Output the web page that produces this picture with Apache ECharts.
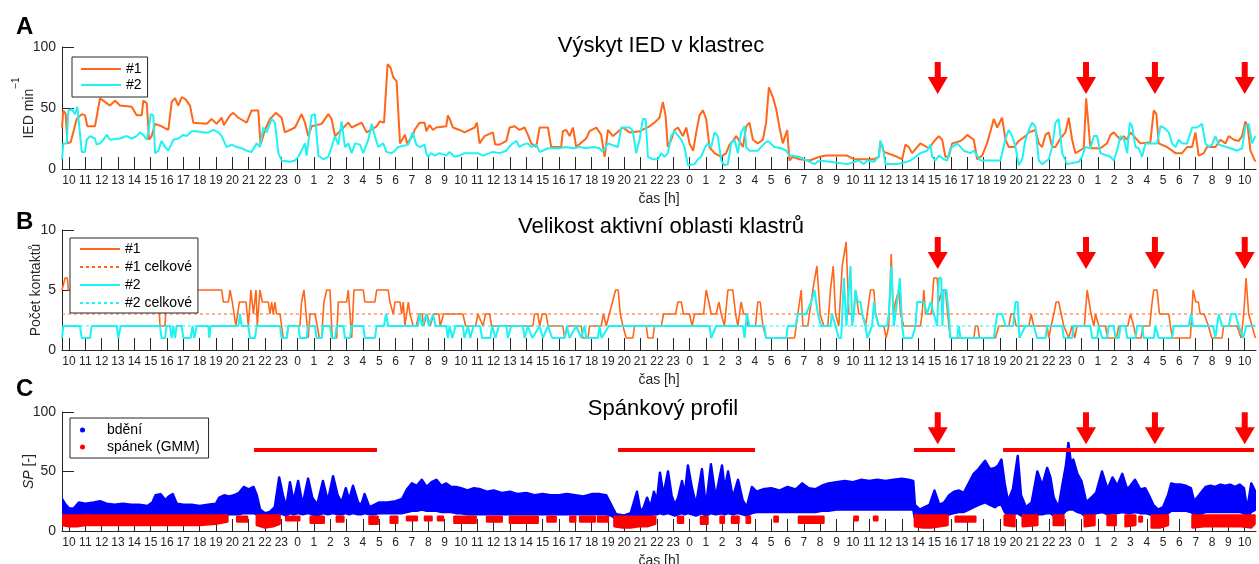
<!DOCTYPE html>
<html>
<head>
<meta charset="utf-8">
<script src="https://cdn.jsdelivr.net/npm/echarts@6/dist/echarts.min.js"></script>
<style>html,body{margin:0;padding:0;background:#fff;}#c{width:1259px;height:564px;}</style>
</head>
<body>
<div id="c"></div>
<script>
// ---------------- DATA ----------------
// time in hours since 10:00 of day 1
const X_MIN = -0.43, X_MAX = 72.69;
const tickHours = [10,11,12,13,14,15,16,17,18,19,20,21,22,23,
  0,1,2,3,4,5,6,7,8,9,10,11,12,13,14,15,16,17,18,19,20,21,22,23,
  0,1,2,3,4,5,6,7,8,9,10,11,12,13,14,15,16,17,18,19,20,21,22,23,
  0,1,2,3,4,5,6,7,8,9,10];
const panelTitles = ['Výskyt IED v klastrec', 'Velikost aktivní oblasti klastrů', 'Spánkový profil'];

// Panel A: IED rate [t, value]
const ied1 = [[-0.43,34],[-0.35,48],[-0.2,45],[-0.1,21],[0.1,22],[0.47,41],[0.78,45],[0.98,44],[1.12,35],[1.59,35],[1.9,58],[2.3,54],[2.51,52],[2.82,56],[3.12,52],[3.84,51],[4.14,44],[4.45,44],[4.55,56],[4.76,54],[4.9,24],[5.06,27],[5.27,37],[5.67,35],[6.08,32],[6.29,55],[6.49,58],[6.69,52],[6.9,59],[7.14,57],[7.41,52],[7.61,38],[8.43,37],[8.73,41],[9.04,37],[9.35,42],[9.49,36],[9.86,44],[10.06,46],[10.37,42],[10.88,38],[11.18,48],[11.59,48],[11.73,20],[12.0,32],[12.31,41],[12.67,46],[13.02,42],[13.22,30],[13.84,34],[14.24,45],[14.45,38],[14.65,27],[14.86,35],[15.47,37],[15.88,45],[16.08,41],[16.29,27],[16.59,31],[17.1,38],[17.31,34],[17.92,38],[18.22,30],[18.84,35],[19.04,39],[19.29,38],[19.51,86],[19.69,83],[19.86,75],[20.06,72],[20.27,21],[20.57,28],[20.71,21],[21.08,28],[21.16,32],[21.47,38],[21.78,38],[21.88,31],[22.08,36],[22.29,32],[22.49,34],[23.1,35],[23.2,44],[23.31,41],[23.51,34],[23.92,32],[24.22,30],[24.84,34],[24.98,38],[25.14,21],[25.45,27],[25.96,30],[26.1,20],[26.37,20],[26.78,23],[26.98,34],[27.29,35],[27.59,32],[27.9,34],[28.1,28],[28.31,21],[28.61,18],[28.82,34],[29.33,34],[29.53,18],[30.14,18],[30.24,31],[30.45,32],[30.65,27],[30.86,34],[31.06,18],[31.67,25],[31.88,31],[32.29,34],[32.59,28],[32.8,10],[33.0,32],[33.31,27],[33.92,34],[34.33,30],[34.94,31],[35.55,35],[35.86,38],[36.16,42],[36.37,55],[36.53,44],[36.67,18],[36.88,24],[37.08,32],[37.29,34],[37.59,27],[37.8,34],[38.0,21],[38.22,15],[38.41,30],[38.61,44],[38.82,48],[39.02,41],[39.22,18],[39.53,13],[39.94,10],[40.24,13],[40.45,20],[40.65,23],[40.86,27],[41.27,18],[41.47,35],[41.67,38],[41.88,24],[42.18,21],[42.49,24],[42.69,38],[42.86,67],[43.1,59],[43.31,49],[43.51,34],[43.71,21],[43.98,32],[44.12,7],[44.33,10],[44.73,8],[45.35,7],[45.96,10],[46.37,11],[47.65,11],[48.06,8],[49.29,8],[49.59,10],[49.69,23],[49.9,14],[50.71,10],[51.02,8],[51.22,20],[51.43,18],[51.63,13],[51.94,18],[52.14,21],[52.65,17],[53.06,24],[53.27,27],[53.47,24],[53.67,10],[53.88,10],[54.08,21],[54.59,23],[54.8,25],[55.0,28],[55.41,24],[55.61,8],[55.92,11],[56.22,21],[56.43,31],[56.63,41],[56.84,34],[57.14,42],[57.35,24],[57.55,18],[57.86,18],[58.16,23],[58.57,27],[58.78,30],[59.18,32],[59.39,21],[59.59,18],[59.8,28],[60.0,30],[60.2,18],[60.41,18],[60.71,25],[61.02,30],[61.22,42],[61.43,24],[61.63,13],[62.14,17],[62.29,58],[62.41,58],[62.55,17],[63.16,17],[63.57,21],[63.78,28],[63.98,30],[64.39,24],[64.59,27],[64.8,24],[65.0,30],[65.61,21],[66.22,22],[66.43,48],[66.59,45],[66.73,21],[67.24,18],[67.76,13],[68.16,13],[68.47,18],[68.78,18],[68.98,30],[69.18,11],[69.49,13],[69.69,18],[70.2,18],[70.51,24],[70.82,21],[71.02,27],[71.33,24],[71.63,23],[71.84,27],[72.04,39],[72.18,35],[72.35,15],[72.65,6]];

const ied2 = [[-0.43,8],[-0.35,21],[-0.14,21],[-0.04,48],[0.16,49],[0.37,45],[0.51,51],[0.63,50],[0.78,14],[0.98,14],[1.08,24],[1.29,27],[1.59,25],[1.69,20],[1.9,21],[2.1,24],[2.31,28],[2.51,24],[3.12,25],[3.53,27],[3.84,25],[4.14,27],[4.35,30],[4.55,28],[4.76,24],[4.86,30],[5.0,45],[5.16,44],[5.27,13],[5.47,15],[5.67,23],[5.88,18],[6.08,15],[6.39,24],[6.69,25],[7.0,28],[7.2,27],[7.51,31],[7.82,31],[8.22,30],[8.53,30],[8.84,32],[9.14,30],[9.35,27],[9.65,18],[9.96,20],[10.27,18],[10.57,17],[10.88,15],[11.18,14],[11.49,21],[11.69,18],[11.9,34],[12.1,30],[12.41,41],[12.61,38],[12.82,13],[13.02,7],[13.53,6],[13.84,7],[14.04,10],[14.24,15],[14.45,21],[14.55,11],[14.86,44],[15.06,45],[15.27,11],[15.57,8],[15.88,10],[16.08,18],[16.29,27],[16.49,20],[16.69,39],[16.9,18],[17.1,21],[17.31,13],[17.51,21],[17.82,20],[18.02,13],[18.33,24],[18.53,37],[18.73,27],[18.94,18],[19.24,21],[19.45,14],[19.76,13],[19.96,15],[20.16,18],[20.78,20],[21.04,30],[21.27,20],[21.47,18],[21.78,20],[21.88,13],[21.98,10],[22.18,13],[22.39,11],[22.69,13],[23.1,11],[23.31,14],[23.61,10],[23.92,11],[24.22,13],[25.04,13],[25.35,11],[25.96,14],[26.37,13],[26.78,15],[27.08,20],[27.39,23],[27.59,18],[27.8,20],[28.1,21],[28.31,18],[28.61,20],[28.82,14],[29.02,15],[29.33,17],[30.04,17],[30.45,18],[30.86,17],[31.27,18],[31.67,17],[32.08,18],[32.49,17],[32.69,14],[33.0,21],[33.61,18],[33.82,34],[34.33,34],[34.53,31],[34.73,13],[34.94,24],[35.14,41],[35.31,41],[35.45,10],[35.76,8],[36.06,8],[36.27,13],[36.47,10],[36.67,13],[36.88,27],[37.08,31],[37.49,24],[37.69,18],[37.9,3],[38.31,4],[38.51,8],[38.71,10],[38.92,17],[39.12,21],[39.33,18],[39.53,30],[39.73,27],[39.94,7],[40.14,3],[40.35,4],[40.55,21],[40.76,24],[40.96,13],[41.16,30],[41.37,35],[41.47,18],[41.67,15],[42.18,15],[42.59,21],[42.8,23],[43.2,18],[43.61,17],[43.92,15],[44.12,11],[44.73,10],[45.04,8],[45.65,4],[45.96,7],[46.57,6],[47.65,4],[48.37,7],[48.67,4],[48.88,7],[49.29,6],[49.59,10],[49.69,23],[49.84,18],[50.0,4],[50.71,4],[51.33,6],[51.53,7],[51.84,10],[52.14,13],[52.55,15],[52.76,20],[52.86,10],[53.06,7],[53.27,11],[53.57,8],[53.78,7],[53.98,17],[54.39,21],[54.8,15],[55.2,13],[55.41,15],[55.61,11],[55.82,7],[57.04,7],[57.35,25],[57.55,32],[57.76,27],[57.96,18],[58.16,3],[58.37,8],[58.57,24],[58.78,32],[58.98,38],[59.18,35],[59.39,7],[59.59,4],[60.0,8],[60.2,18],[60.41,38],[60.61,41],[60.82,13],[61.12,4],[61.84,6],[62.04,10],[62.24,18],[62.55,17],[62.76,27],[62.96,27],[63.16,13],[63.78,10],[63.98,7],[64.18,15],[64.39,27],[64.59,25],[64.8,13],[64.96,38],[65.1,35],[65.31,18],[65.51,17],[65.71,10],[65.92,21],[66.63,21],[66.84,35],[67.04,34],[67.35,30],[67.55,21],[67.76,18],[67.96,24],[68.16,21],[68.47,21],[68.78,34],[69.08,34],[69.39,37],[69.59,21],[69.8,18],[70.0,20],[70.2,27],[70.41,20],[71.12,17],[71.53,15],[71.84,17],[72.04,35],[72.24,37],[72.45,21],[72.65,27]];

// Panel B: number of contacts [t, value]
const contacts1 = [[-0.43,5],[-0.31,5],[-0.24,6],[-0.1,6],[-0.04,5],[5.47,5],[5.57,2],[5.88,2],[5.98,5],[9.35,5],[9.45,4],[9.76,4],[9.86,5],[10.0,4],[10.22,2],[10.43,4],[10.84,4],[10.98,2],[11.14,5],[11.29,3],[11.45,5],[11.53,2],[11.69,5],[11.84,4],[12.2,4],[12.31,3],[12.41,4],[12.51,3],[12.61,4],[12.71,3],[12.92,3],[13.02,2],[13.12,1],[13.33,1],[13.43,2],[14.14,2],[14.24,4],[14.39,5],[14.51,5],[14.65,1],[14.76,3],[15.06,3],[15.2,2],[15.33,1],[15.47,1],[15.61,4],[15.78,5],[15.98,5],[16.12,1],[16.39,1],[16.49,4],[17.0,4],[17.1,5],[17.2,5],[17.31,1],[17.45,5],[18.02,5],[18.12,4],[18.73,4],[18.84,5],[19.55,5],[19.65,4],[19.86,3],[19.96,4],[20.27,4],[20.37,3],[20.47,4],[20.57,2],[20.78,4],[20.88,3],[21.08,2],[21.27,2],[21.43,3],[21.63,3],[21.71,2],[21.92,3],[22.12,2],[22.33,3],[22.65,3],[22.73,2],[22.94,3],[24.12,3],[24.29,2],[24.9,2],[25.04,3],[25.35,2],[25.51,3],[25.76,3],[25.88,2],[28.41,2],[28.51,3],[28.71,3],[28.82,2],[28.98,3],[29.22,3],[29.33,2],[30.24,2],[30.35,1],[30.55,2],[31.37,2],[31.47,1],[31.78,1],[31.88,2],[32.59,2],[32.73,3],[32.9,2],[33.47,5],[33.63,5],[33.76,3],[33.92,2],[34.12,1],[34.53,1],[34.63,2],[35.35,2],[35.45,1],[35.76,1],[35.86,2],[36.27,2],[36.41,3],[37.14,3],[37.29,4],[37.49,4],[37.63,3],[38.0,3],[38.16,2],[38.31,3],[38.86,3],[39.02,5],[39.18,4],[39.33,3],[39.63,3],[39.8,4],[39.94,3],[40.14,2],[40.35,5],[40.65,5],[40.82,3],[40.96,2],[41.16,4],[41.31,3],[41.47,3],[41.57,2],[42.04,2],[42.18,4],[42.33,4],[42.49,2],[42.69,1],[44.43,1],[44.63,3],[44.84,5],[44.94,2],[45.24,2],[45.55,5],[45.8,7],[46.0,3],[46.22,2],[46.47,2],[46.63,5],[46.8,7],[46.94,3],[47.14,2],[47.35,7],[47.45,7],[47.59,9],[47.76,3],[48.06,3],[48.16,5],[48.37,3],[48.57,3],[48.78,2],[48.98,4],[49.08,5],[49.29,5],[49.39,3],[49.59,2],[49.9,2],[50.04,1],[50.2,2],[50.35,8],[50.47,3],[50.61,4],[50.82,5],[50.92,3],[51.12,2],[52.14,2],[52.24,3],[52.35,5],[52.45,3],[52.8,3],[52.96,6],[53.16,6],[53.27,4],[53.47,5],[53.67,5],[53.88,2],[53.98,1],[55.41,1],[55.51,2],[55.65,2],[55.76,1],[56.73,1],[56.94,2],[57.55,2],[57.69,3],[57.86,3],[58.0,2],[58.78,2],[58.92,3],[59.08,2],[59.9,2],[60.0,1],[60.14,2],[60.31,3],[60.45,4],[60.61,4],[60.76,3],[60.92,2],[61.22,1],[61.43,2],[61.59,1],[61.73,2],[62.18,2],[62.35,5],[62.47,4],[62.59,3],[62.76,2],[62.86,3],[63.06,2],[63.47,2],[63.61,1],[64.14,1],[64.29,2],[64.84,2],[65.0,3],[65.2,2],[65.35,1],[65.65,1],[65.78,2],[66.18,2],[66.33,4],[66.43,5],[66.63,5],[66.78,3],[67.35,3],[67.45,2],[67.57,1],[68.67,1],[68.84,5],[69.0,4],[69.16,4],[69.27,3],[69.51,3],[69.78,2],[69.98,1],[70.61,1],[70.71,2],[71.53,2],[71.78,1],[71.94,3],[72.08,6],[72.24,3],[72.45,2],[72.65,1]];

const contacts2 = [[-0.43,1],[-0.35,2],[0.67,2],[0.78,1],[1.29,1],[1.39,2],[2.92,2],[3.02,1],[3.16,2],[5.57,2],[5.67,1],[5.88,1],[5.98,2],[6.18,2],[6.29,1],[6.39,2],[6.49,1],[6.59,2],[6.9,2],[7.0,1],[7.45,1],[7.57,2],[7.67,1],[7.82,2],[8.53,2],[8.59,1],[8.67,2],[10.37,2],[10.47,3],[10.57,2],[10.98,2],[11.08,1],[11.39,1],[11.49,2],[12.92,2],[13.02,1],[13.33,1],[13.43,2],[14.04,2],[14.14,1],[14.55,1],[14.65,2],[15.06,2],[15.16,1],[15.47,1],[15.57,2],[15.98,2],[16.08,1],[16.29,1],[16.39,2],[16.8,2],[16.9,1],[17.2,1],[17.31,2],[18.02,2],[18.12,1],[18.73,1],[18.84,2],[19.29,2],[19.41,3],[19.55,2],[21.37,2],[21.47,3],[21.63,2],[21.88,3],[22.04,2],[22.29,3],[22.45,2],[23.1,2],[23.2,1],[23.31,2],[23.47,1],[23.67,2],[24.12,2],[24.22,1],[24.43,2],[24.57,1],[24.78,2],[25.18,2],[25.29,1],[25.8,1],[25.92,2],[26.12,1],[26.33,2],[26.78,2],[26.88,1],[27.08,2],[27.8,2],[27.9,1],[28.1,2],[28.37,1],[28.82,2],[29.02,1],[29.33,2],[29.59,1],[30.35,1],[30.49,2],[30.65,1],[31.06,2],[31.37,1],[31.57,2],[31.67,1],[32.39,1],[32.49,2],[32.61,1],[33.06,2],[39.22,2],[39.33,1],[39.63,2],[41.27,2],[41.37,1],[41.51,3],[41.67,2],[42.57,2],[42.69,1],[43.92,1],[44.02,2],[44.49,2],[44.63,3],[45.14,3],[45.45,4],[45.65,5],[45.86,3],[46.06,2],[46.63,2],[46.73,3],[46.94,2],[47.14,1],[47.29,1],[47.45,6],[47.61,2],[47.86,7],[47.96,2],[48.06,3],[48.16,5],[48.31,4],[48.47,4],[48.57,3],[48.78,2],[48.88,1],[49.18,2],[49.29,4],[49.39,3],[49.59,2],[50.1,2],[50.2,3],[50.37,7],[50.51,2],[50.71,4],[50.88,6],[51.02,2],[51.12,1],[51.63,1],[51.84,2],[51.94,4],[52.35,4],[52.55,3],[52.76,4],[52.96,3],[53.16,2],[53.27,6],[53.41,6],[53.49,2],[53.57,5],[53.73,5],[53.88,3],[53.98,1],[54.39,1],[54.49,2],[54.59,1],[56.63,1],[56.84,3],[57.14,3],[57.35,2],[57.82,2],[57.96,4],[58.1,4],[58.2,1],[58.57,2],[59.08,2],[59.29,1],[59.8,1],[59.9,2],[60.82,2],[60.92,1],[61.43,1],[61.53,2],[62.55,2],[62.65,1],[62.96,1],[63.06,2],[63.27,1],[63.57,1],[63.67,2],[63.98,2],[64.08,1],[64.29,1],[64.39,2],[64.69,2],[64.8,1],[65.31,1],[65.41,2],[65.71,2],[65.82,1],[66.43,1],[66.53,2],[66.73,1],[67.55,1],[67.65,2],[68.57,2],[68.71,3],[68.84,2],[70.06,2],[70.2,1],[70.41,3],[70.61,2],[71.02,2],[71.16,3],[71.43,3],[71.63,2],[71.9,1],[72.1,2],[72.65,2]];

const totalContacts1 = 3;
const totalContacts2 = 2;

// Panel C: sleep profile, envelope of the dense point clouds [t, low, high]; null = gap
const wakeBand = [[-0.43,15,27],[-0.2,14,22],[0.0,13,19],[0.3,13,19],[0.6,13,24],[1.0,13,23],[1.5,13,24],[1.9,13,25],[2.3,13,23],[2.8,13,22],[3.3,13,23],[3.8,13,22],[4.3,13,22],[4.8,13,21],[5.1,13,24],[5.3,14,30],[5.6,14,31],[5.9,14,26],[6.1,14,29],[6.35,14,31],[6.6,13,23],[7.0,13,22],[7.5,13,22],[8.0,13,21],[8.5,13,22],[9.0,13,23],[9.2,14,28],[9.5,14,30],[9.8,14,29],[10.1,14,30],[10.4,14,32],[10.7,15,37],[11.0,15,35],[11.3,15,37],[11.5,14,30],[11.7,13,18],[12.0,12,15],[12.3,12,16],[12.6,13,20],
 [12.87,15,45],[13.1,14,30],[13.3,13,20],[13.53,15,41],[13.75,14,25],[14.03,15,42],[14.3,14,22],[14.64,15,44],[14.9,14,28],[15.2,13,22],[15.55,15,42],[15.85,14,25],[16.17,15,46],[16.45,14,30],[16.7,14,24],[16.95,15,36],[17.15,14,26],[17.39,15,38],[17.7,14,24],[17.9,14,22],[18.1,15,31],[18.4,14,20],[18.7,14,22],[19.0,15,24],[19.5,15,24],[20.0,15,25],[20.4,15,27],[20.7,16,35],[21.0,17,40],[21.3,17,38],[21.6,18,43],[21.9,17,37],[22.2,17,41],[22.5,17,43],[22.8,16,38],[23.1,16,40],[23.4,16,37],[23.7,15,37],
 [24.0,15,36],[24.4,14,34],[24.8,14,36],[25.2,14,35],[25.6,14,33],[26.0,14,34],[26.5,14,32],[27.0,14,33],[27.5,14,31],[28.0,14,32],[28.5,14,30],[29.0,14,31],[29.5,14,30],[30.0,14,30],[30.5,14,31],[31.0,14,30],[31.5,14,29],[32.0,14,31],[32.5,14,31],[32.9,14,30],[33.2,13,22],
 [33.5,10,14],[34.0,10,13],[34.4,11,15],[34.78,13,33],[35.0,11,16],[35.2,12,20],[35.4,13,28],[35.6,13,20],[35.82,14,33],[36.0,14,25],[36.19,15,49],[36.4,14,30],[36.68,15,50],[36.9,14,30],[37.1,13,22],[37.3,14,28],[37.54,15,42],[37.7,14,30],[37.9,15,55],[38.15,14,36],[38.4,13,22],[38.76,15,52],[39.0,13,20],[39.31,15,56],[39.6,14,28],[39.99,15,55],[40.15,14,35],[40.36,15,50],[40.65,14,28],[40.97,15,43],[41.25,14,26],[41.5,13,20],[41.82,15,37],
 [42.1,16,33],[42.5,16,35],[43.0,16,36],[43.5,16,34],[44.0,16,37],[44.5,16,35],[44.9,16,40],[45.3,16,36],[45.7,16,35],[46.1,17,38],[46.5,17,40],[47.0,18,41],[47.5,18,42],[48.0,18,41],[48.5,18,43],[49.0,18,42],[49.5,18,43],[50.0,18,42],[50.5,18,43],[51.0,18,44],[51.4,18,43],[51.7,18,42],
 [51.8,11,22],[52.1,11,18],[52.4,11,20],[52.7,12,22],[53.0,13,34],[53.3,12,22],[53.6,12,24],[53.9,14,30],[54.2,15,33],[54.5,16,34],[54.8,16,32],[55.1,18,40],[55.4,20,48],[55.7,22,52],[56.1,24,59],[56.4,22,52],[56.7,20,53],[56.9,22,55],[57.1,22,60],[57.3,16,40],[57.5,13,25],[57.8,14,35],[58.1,15,63],[58.3,13,30],[58.6,12,20],[58.95,13,24],[59.3,14,50],[59.6,14,38],[59.9,15,53],[60.1,15,45],[60.3,13,28],[60.6,12,20],[60.85,14,40],[61.05,17,55],[61.2,18,74],[61.35,18,58],[61.5,18,60],[61.75,16,48],[62.0,15,42],[62.3,12,24],[62.6,13,28],[62.9,15,32],[63.26,16,50],[63.6,14,35],[63.9,15,45],[64.2,15,38],[64.5,16,48],[64.8,15,35],[65.0,15,38],[65.28,16,43],[65.6,15,35],[65.9,15,36],[66.2,14,28],[66.4,13,22],[66.7,12,18],[67.0,13,20],[67.3,15,30],[67.5,17,40],[67.8,17,39],[68.1,17,39],[68.4,17,38],[68.7,16,36],[68.9,14,25],[69.2,14,30],[69.6,16,37],[69.9,16,38],[70.2,16,37],[70.5,16,39],[70.8,16,38],[71.1,16,39],[71.4,16,37],[71.7,16,39],[71.95,15,36],[72.15,12,18],[72.4,16,40],[72.65,18,33]];

const sleepBand = [[-0.43,5,13],[0.0,4,13],[0.5,4,13],[1.0,5,13],[2.0,5,13],[3.0,5,13],[4.0,5,13],[5.0,5,13],[6.0,5,13],[7.0,5,13],[8.0,5,13],[9.0,6,13],[9.7,8,13],null,
 [10.3,8,12],[10.9,8,12],null,
 [11.5,5,13],[12.0,3,13],[12.5,4,13],[12.9,6,13],null,
 [13.3,9,12],[14.1,9,12],null,[14.8,7,12],[15.6,7,12],null,[16.4,8,12],[16.8,8,12],null,[18.4,6,12],[18.9,6,12],null,[19.7,7,12],[20.1,7,12],null,[20.7,9,12],[21.3,9,12],null,[21.8,9,12],[22.2,9,12],null,[22.6,9,12],[22.9,9,12],null,
 [23.6,7,12],[24.9,7,12],null,[25.6,8,12],[26.5,8,12],null,[27.0,7,12],[28.7,7,12],null,[29.3,8,12],[29.8,8,12],null,[30.7,8,12],[31.0,8,12],null,[31.3,8,12],[32.2,8,12],null,[32.4,8,12],[33.0,8,12],null,
 [33.4,4,12],[33.9,3,12],[34.4,3,12],[34.9,4,12],[35.4,4,12],[35.9,6,12],null,
 [37.3,7,12],[37.6,7,12],null,[38.7,6,12],[39.1,6,12],null,[39.9,7,12],[40.1,7,12],null,[40.6,7,12],[41.0,7,12],null,[41.5,7,12],[41.7,7,12],null,
 [43.2,8,12],[43.4,8,12],null,[44.7,7,12],[46.2,7,12],null,
 [48.1,9,12],[48.3,9,12],null,[49.3,9,12],[49.5,9,12],null,
 [51.8,4,13],[52.3,3,13],[52.8,3,13],[53.3,4,13],[53.8,5,13],null,[54.3,8,12],[55.5,8,12],null,[57.3,5,13],[57.9,4,13],null,[58.4,4,13],[59.3,5,13],null,[60.3,5,13],[60.9,5,13],null,[62.2,4,13],[62.8,5,13],null,[63.6,5,13],[64.1,5,13],null,[64.7,4,13],[65.3,5,13],null,[65.55,8,12],[65.7,8,12],null,[66.3,3,13],[66.8,3,13],[67.3,5,13],null,
 [68.8,3,13],[69.5,4,13],[70.2,4,13],[71.0,4,13],[71.8,4,13],[72.4,3,13],[72.6,6,13]];

// sleep periods (start, end) drawn as red bars, and marked events (arrows)
const sleepPeriods = [[11.33, 18.86], [33.62, 42.01], [51.74, 54.26], [57.2, 72.57]];
const sleepBarLevel = 68;
const eventTimes = [53.2, 62.28, 66.5, 72.0];
const arrowTipLevel = [61.5, 6.75, 73];

// ---------------- CHART ----------------
const FONT = "'Liberation Sans', Arial, Helvetica, sans-serif";
const TXT = '#262626';
const ORANGE = '#FF661A';
const CYAN = '#1FF2F2';
const tickPos = tickHours.map((h, i) => i);
const GRIDS = [{top: 47, height: 122}, {top: 230, height: 120}, {top: 412, height: 119}];

function xAx(i) {
  return {
    type: 'value', gridIndex: i, min: X_MIN, max: X_MAX,
    axisLine: {show: true, onZero: false, lineStyle: {color: TXT, width: 1}},
    axisTick: {show: true, inside: true, length: 12, customValues: tickPos, lineStyle: {color: TXT, width: 1}},
    axisLabel: {show: true, customValues: tickPos, formatter: v => String(tickHours[Math.round(v)]),
      fontSize: 12, color: TXT, fontFamily: FONT, margin: 6},
    splitLine: {show: false},
    name: 'čas [h]', nameLocation: 'middle', nameGap: 23, nameMoveOverlap: false,
    nameTextStyle: {fontSize: 14, color: TXT, fontFamily: FONT}
  };
}
function yAx(i, max, interval, name, gap, rich) {
  return {
    type: 'value', gridIndex: i, min: 0, max: max, interval: interval,
    axisLine: {show: true, onZero: false, lineStyle: {color: TXT, width: 1}},
    axisTick: {show: true, inside: true, length: 12, lineStyle: {color: TXT, width: 1}},
    axisLabel: {fontSize: 14, color: TXT, fontFamily: FONT, margin: 6},
    splitLine: {show: false},
    name: name, nameLocation: 'middle', nameGap: gap, nameMoveOverlap: false,
    nameTextStyle: Object.assign({fontSize: 14, color: TXT, fontFamily: FONT}, rich ? {rich: rich} : {})
  };
}

function lineSeries(name, data, color, width, axis, type) {
  return {
    type: 'line', name: name, data: data, xAxisIndex: axis, yAxisIndex: axis,
    symbol: 'none', showSymbol: false, clip: true,
    lineStyle: {color: color, width: width, type: type || 'solid'},
    itemStyle: {color: color}, emphasis: {disabled: true}
  };
}

function bandSeries(name, color, triples) {
  const segs = [];
  let cur = [];
  triples.forEach(p => {
    if (p === null) { if (cur.length) segs.push(cur); cur = []; }
    else cur.push(p);
  });
  if (cur.length) segs.push(cur);
  return {
    type: 'custom', name: name, xAxisIndex: 2, yAxisIndex: 2, clip: true,
    itemStyle: {color: color},
    data: segs.map((s, i) => [s[0][0], s[0][2], i]),
    encode: {x: 0, y: 1},
    renderItem: function (params, api) {
      const s = segs[api.value(2)];
      const top = s.map(p => api.coord([p[0], p[2]]));
      const bot = s.map(p => api.coord([p[0], p[1]])).reverse();
      return {
        type: 'polygon',
        shape: {points: top.concat(bot)},
        style: {fill: color, stroke: color, lineWidth: 2.5, lineJoin: 'round'}
      };
    }
  };
}

function arrowSeries(axis) {
  return {
    type: 'scatter', name: 'arrows' + axis, xAxisIndex: axis, yAxisIndex: axis,
    data: eventTimes.map(t => [t, arrowTipLevel[axis]]),
    symbol: 'path://M7,0L13,0L13,15L20,15L10,32L0,15L7,15Z',
    symbolSize: [20, 32], symbolOffset: [0, '-50%'], symbolKeepAspect: false,
    itemStyle: {color: '#FF0000', opacity: 1}, emphasis: {disabled: true}, z: 5, clip: false
  };
}

const series = [
  lineSeries('#1', ied1, ORANGE, 2, 0),
  lineSeries('#2', ied2, CYAN, 2, 0),
  arrowSeries(0),
  lineSeries('#1', contacts1, ORANGE, 1.6, 1),
  lineSeries('#1 celkové', [[X_MIN, totalContacts1], [X_MAX, totalContacts1]], ORANGE, 1.2, 1, [3, 3]),
  lineSeries('#2', contacts2, CYAN, 2, 1),
  lineSeries('#2 celkové', [[X_MIN, totalContacts2], [X_MAX, totalContacts2]], CYAN, 1.2, 1, [3, 3]),
  arrowSeries(1),
  bandSeries('bdění', '#0000FF', wakeBand),
  bandSeries('spánek (GMM)', '#FF0000', sleepBand),
  arrowSeries(2)
];
sleepPeriods.forEach((p, i) => {
  series.push({
    type: 'line', name: 'sleep' + i, xAxisIndex: 2, yAxisIndex: 2, symbol: 'none',
    data: [[p[0], sleepBarLevel], [p[1], sleepBarLevel]],
    lineStyle: {color: '#FF0000', width: 4, cap: 'butt'}, z: 4, emphasis: {disabled: true}
  });
});

const legendBase = {
  orient: 'vertical', selectedMode: false, backgroundColor: '#fff',
  borderColor: TXT, borderWidth: 1, borderRadius: 0,
  textStyle: {fontSize: 14, color: '#000', fontFamily: FONT, lineHeight: 14},
  itemWidth: 40, itemHeight: 14,
  itemStyle: {opacity: 0}
};

const option = {
  animation: false,
  backgroundColor: '#fff',
  textStyle: {fontFamily: FONT},
  grid: GRIDS.map(g => ({left: 62, width: 1194, top: g.top, height: g.height,
    containLabel: false, outerBoundsMode: 'none'})),
  xAxis: [xAx(0), xAx(1), xAx(2)],
  yAxis: [
    yAx(0, 100, 50, '{a|IED min}{b|−1}', 15, {
      a: {fontSize: 14, color: TXT, fontFamily: FONT, lineHeight: 36},
      b: {fontSize: 10, color: TXT, fontFamily: FONT, lineHeight: 10, verticalAlign: 'top'}
    }),
    yAx(1, 10, 5, 'Počet kontaktů', 19),
    yAx(2, 100, 50, '{i|SP} [-]', 26, {
      i: {fontSize: 14, color: TXT, fontFamily: FONT, fontStyle: 'italic'}
    })
  ],
  legend: [
    Object.assign({}, legendBase, {left: 72, top: 57, padding: [5, 6, 5, 8], itemGap: 2,
      data: ['#1', '#2'].map(n => ({name: n}))}),
    Object.assign({}, legendBase, {left: 70, top: 238, padding: [4, 6, 3, 9], itemGap: 4,
      data: ['#1', '#1 celkové', '#2', '#2 celkové'].map(n => ({name: n}))}),
    Object.assign({}, legendBase, {left: 70, top: 418, padding: [5, 9, 4, 10], itemGap: 3,
      itemWidth: 5, itemHeight: 5, itemStyle: {},
      textStyle: {fontSize: 14, color: '#000', fontFamily: FONT, lineHeight: 14, padding: [0, 0, 0, 17]},
      data: [{name: 'bdění', icon: 'circle'}, {name: 'spánek (GMM)', icon: 'circle'}]})
  ],
  graphic: [
    {type: 'text', x: 16, y: 27, style: {text: 'A', fontSize: 24, fontWeight: 'bold', fontFamily: FONT, fill: '#000', verticalAlign: 'middle'}},
    {type: 'text', x: 16, y: 222, style: {text: 'B', fontSize: 24, fontWeight: 'bold', fontFamily: FONT, fill: '#000', verticalAlign: 'middle'}},
    {type: 'text', x: 16, y: 389, style: {text: 'C', fontSize: 24, fontWeight: 'bold', fontFamily: FONT, fill: '#000', verticalAlign: 'middle'}},
    {type: 'text', x: 661, y: 46, style: {text: panelTitles[0], fontSize: 22, fontFamily: FONT, fill: '#000', align: 'center', verticalAlign: 'middle'}},
    {type: 'text', x: 661, y: 227, style: {text: panelTitles[1], fontSize: 22, fontFamily: FONT, fill: '#000', align: 'center', verticalAlign: 'middle'}},
    {type: 'text', x: 663, y: 409, style: {text: panelTitles[2], fontSize: 22, fontFamily: FONT, fill: '#000', align: 'center', verticalAlign: 'middle'}}
  ],
  series: series
};

const chart = echarts.init(document.getElementById('c'), null, {renderer: 'canvas'});
chart.setOption(option);
</script>
</body>
</html>
